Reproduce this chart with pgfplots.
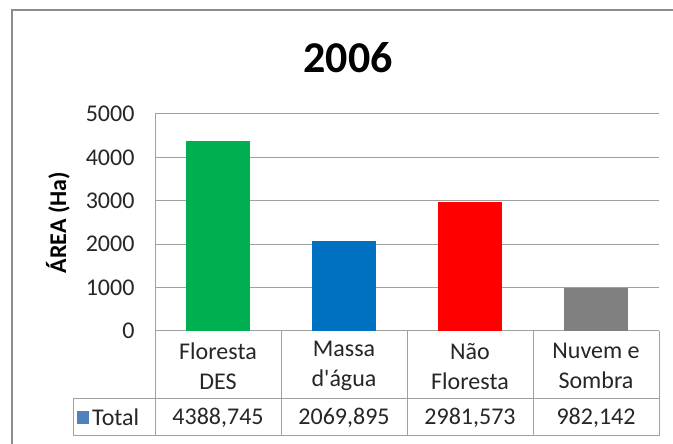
\documentclass[border=0pt]{standalone}
\usepackage{fontspec}
\setmainfont{Carlito}
\usepackage{pgfplots}
\pgfplotsset{compat=1.18}
\definecolor{cgreen}{HTML}{00B050}
\definecolor{cblue}{HTML}{0070C0}
\definecolor{cred}{HTML}{FF0000}
\definecolor{cgray}{HTML}{808080}
\definecolor{keyblue}{HTML}{4F81BD}
\definecolor{gridc}{HTML}{A0A0A0}
\begin{document}
\begin{tikzpicture}[x=1pt,y=1pt]
\useasboundingbox (0,0) rectangle (673,444);
\fill[white] (0,0) rectangle (673,444);
\draw[black!45, line width=2pt] (12,-2) -- (12,434) -- (675,434);
\node[font=\fontsize{44}{50}\selectfont\bfseries] at (348,386) {2006};
\begin{axis}[
  at={(155pt,113pt)}, anchor=south west,
  scale only axis, width=504pt, height=217pt,
  xmin=-0.5, xmax=3.5, ymin=0, ymax=5000,
  axis line style={draw=none},
  tick style={draw=none},
  ytick={0,1000,2000,3000,4000,5000},
  ymajorgrids, grid style={gridc, line width=1pt},
  xtick={0,1,2,3},
  xticklabels={{Floresta\\DES},{Massa\\d\textquotesingle água},{Não\\Floresta},{Nuvem e\\Sombra}},
  xticklabel style={align=center, anchor=center, yshift=-31pt, font=\fontsize{24}{30}\selectfont, text=black!85},
  /pgf/number format/assume math mode=true,
  /pgf/number format/1000 sep={},
  scaled y ticks=false,
  yticklabel style={font=\fontsize{24}{28}\selectfont, text=black!85, anchor=east, xshift=-17pt},
  ylabel={ÁREA (Ha)},
  ylabel style={font=\fontsize{24}{28}\selectfont\bfseries, at={(axis description cs:-0.1925,0.5)}, anchor=center, rotate=0},
  ybar, bar width=64pt, bar shift=0pt,
  clip=false,
]
\addplot[fill=cgreen, draw=none] coordinates {(0,4388.745)};
\addplot[fill=cblue, draw=none] coordinates {(1,2069.895)};
\addplot[fill=cred, draw=none] coordinates {(2,2981.573)};
\addplot[fill=cgray, draw=none] coordinates {(3,982.142)};
\end{axis}
% data table
\begin{scope}[gridc, line width=1pt]
\draw (155,330) -- (155,8);
\foreach \xx in {281,407,533,659} \draw (\xx,113) -- (\xx,8);
\draw (73,45) -- (659,45);
\draw (73,8) -- (659,8);
\draw (73,45) -- (73,8);
\end{scope}
\fill[keyblue] (77,33) rectangle (89,20);
\begin{scope}[every node/.style={font=\fontsize{24}{28}\selectfont, text=black!85}]
\node[anchor=west, inner sep=0pt] at (92,26.5) {Total};
\node at (218,26.5) {4388,745};
\node at (344,26.5) {2069,895};
\node at (470,26.5) {2981,573};
\node at (596,26.5) {982,142};
\end{scope}
\end{tikzpicture}
\end{document}
